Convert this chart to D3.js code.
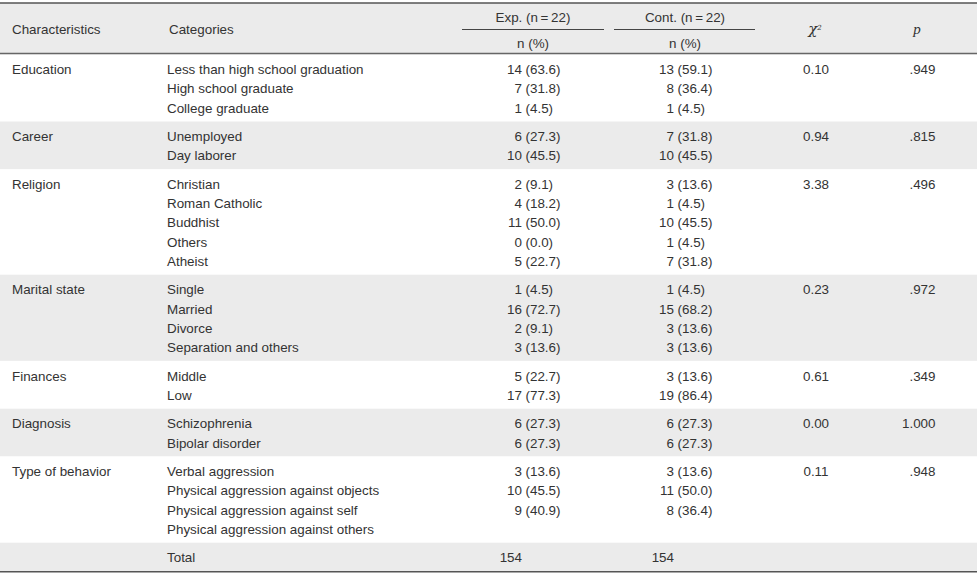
<!DOCTYPE html>
<html>
<head>
<meta charset="utf-8">
<script src="https://cdn.jsdelivr.net/npm/d3@7/dist/d3.min.js"></script>
<style>
  html, body { margin: 0; padding: 0; background: #fff; }
  svg { display: block; }
  text { font-family: "Liberation Sans", Arial, sans-serif; font-size: 13.4px; fill: #333; }
</style>
</head>
<body>
<svg id="chart" width="977" height="576"></svg>
<script>
// ---------- data ----------
const characteristics = ["Education", "Career", "Religion", "Marital state", "Finances", "Diagnosis", "Type of behavior"];
const categories = [
  ["Less than high school graduation", "High school graduate", "College graduate"],
  ["Unemployed", "Day laborer"],
  ["Christian", "Roman Catholic", "Buddhist", "Others", "Atheist"],
  ["Single", "Married", "Divorce", "Separation and others"],
  ["Middle", "Low"],
  ["Schizophrenia", "Bipolar disorder"],
  ["Verbal aggression", "Physical aggression against objects", "Physical aggression against self", "Physical aggression against others"]
];
const expN = [[14, 7, 1], [6, 10], [2, 4, 11, 0, 5], [1, 16, 2, 3], [5, 17], [6, 6], [3, 10, 9, null]];
const expPct = [["63.6", "31.8", "4.5"], ["27.3", "45.5"], ["9.1", "18.2", "50.0", "0.0", "22.7"], ["4.5", "72.7", "9.1", "13.6"], ["22.7", "77.3"], ["27.3", "27.3"], ["13.6", "45.5", "40.9", null]];
const contN = [[13, 8, 1], [7, 10], [3, 1, 10, 1, 7], [1, 15, 3, 3], [3, 19], [6, 6], [3, 11, 8, null]];
const contPct = [["59.1", "36.4", "4.5"], ["31.8", "45.5"], ["13.6", "4.5", "45.5", "4.5", "31.8"], ["4.5", "68.2", "13.6", "13.6"], ["13.6", "86.4"], ["27.3", "27.3"], ["13.6", "50.0", "36.4", null]];
const chiSq = ["0.10", "0.94", "3.38", "0.23", "0.61", "0.00", "0.11"];
const pValues = [".949", ".815", ".496", ".972", ".349", "1.000", ".948"];
const totalLabel = "Total";
const totalExp = 154;
const totalCont = 154;

// ---------- layout ----------
const W = 977;
const svg = d3.select("#chart");
const grey = "#ebebeb";
const pad = 14.3, lineH = 19.2;
const DY = "0.4em";

// x positions for columns via an ordinal scale
const colX = d3.scaleOrdinal()
  .domain(["char", "cat", "expN", "expPct", "contN", "contPct", "chi", "p", "expHead", "contHead"])
  .range([12, 167, 522, 525.5, 674, 677.5, 816, 935.5, 533, 685]);

// build row groups (cumulative units)
const groups = characteristics.map((c, i) => ({
  name: c, idx: i, lines: categories[i].length
}));
groups.push({ name: "", idx: -1, lines: 1, total: true });

let acc = 0;
groups.forEach(g => {
  g.start = acc;
  g.height = 2 * pad + (g.lines - 1) * lineH;
  acc += g.height;
  g.end = acc;
});
const bodyTop = 54.5;
const y = d3.scaleLinear().domain([0, acc]).range([bodyTop, bodyTop + acc]);

// header background
svg.append("rect").attr("x", 0).attr("y", 3).attr("width", W).attr("height", bodyTop - 3).attr("fill", grey);

// row backgrounds (alternating)
svg.selectAll("rect.band").data(groups).join("rect")
  .attr("class", "band")
  .attr("x", 0).attr("width", W)
  .attr("y", g => y(g.start)).attr("height", g => y(g.end) - y(g.start))
  .attr("fill", (g, i) => (i % 2 === 1) ? grey : "#fff");

// rules
svg.append("line").attr("x1", 0).attr("x2", W).attr("y1", 3).attr("y2", 3).attr("stroke", "#555").attr("stroke-width", 1.5);
svg.append("line").attr("x1", 0).attr("x2", W).attr("y1", 53.5).attr("y2", 53.5).attr("stroke", "#666").attr("stroke-width", 1.3);
svg.append("line").attr("x1", 0).attr("x2", W).attr("y1", y(acc) + 0.5).attr("y2", y(acc) + 0.5).attr("stroke", "#555").attr("stroke-width", 1.5);

// header text
const hdr = svg.append("g");
hdr.append("text").attr("x", colX("char")).attr("y", 29).attr("dy", DY).text("Characteristics");
hdr.append("text").attr("x", colX("cat") + 2).attr("y", 29).attr("dy", DY).text("Categories");
[["expHead", "Exp. (n\u2009=\u200922)", 462, 604], ["contHead", "Cont. (n\u2009=\u200922)", 614, 755]].forEach(([k, label, x1, x2]) => {
  hdr.append("text").attr("x", colX(k)).attr("y", 16.5).attr("dy", DY).attr("text-anchor", "middle").text(label);
  hdr.append("line").attr("x1", x1).attr("x2", x2).attr("y1", 29.5).attr("y2", 29.5).attr("stroke", "#444").attr("stroke-width", 1);
  hdr.append("text").attr("x", colX(k)).attr("y", 43).attr("dy", DY).attr("text-anchor", "middle").text("n (%)");
});
const chiT = hdr.append("text").attr("x", 815).attr("y", 29).attr("dy", "0.35em").attr("text-anchor", "middle")
  .style("font-family", "'DejaVu Serif', 'Liberation Serif', serif").style("font-style", "italic").style("font-size", "15px");
chiT.append("tspan").text("\u03c7");
chiT.append("tspan").attr("dy", "-0.55em").style("font-size", "7px").text("2");
hdr.append("text").attr("x", 917).attr("y", 29).attr("dy", "0.35em").attr("text-anchor", "middle")
  .style("font-family", "'Liberation Serif', serif").style("font-style", "italic").style("font-size", "15px").text("p");

// body text
const body = svg.append("g");
groups.forEach(g => {
  const lineY = k => y(g.start + pad + k * lineH);
  if (g.total) {
    body.append("text").attr("x", colX("cat")).attr("y", lineY(0)).attr("dy", DY).text(totalLabel);
    body.append("text").attr("x", colX("expN")).attr("y", lineY(0)).attr("dy", DY).attr("text-anchor", "end").text(totalExp);
    body.append("text").attr("x", colX("contN")).attr("y", lineY(0)).attr("dy", DY).attr("text-anchor", "end").text(totalCont);
    return;
  }
  const i = g.idx;
  body.append("text").attr("x", colX("char")).attr("y", lineY(0)).attr("dy", DY).text(g.name);
  body.append("text").attr("x", colX("chi")).attr("y", lineY(0)).attr("dy", DY).attr("text-anchor", "middle").text(chiSq[i]);
  body.append("text").attr("x", colX("p")).attr("y", lineY(0)).attr("dy", DY).attr("text-anchor", "end").text(pValues[i]);
  categories[i].forEach((cat, k) => {
    const yy = lineY(k);
    body.append("text").attr("x", colX("cat")).attr("y", yy).attr("dy", DY).text(cat);
    if (expN[i][k] !== null) {
      body.append("text").attr("x", colX("expN")).attr("y", yy).attr("dy", DY).attr("text-anchor", "end").text(expN[i][k]);
      body.append("text").attr("x", colX("expPct")).attr("y", yy).attr("dy", DY).text("(" + expPct[i][k] + ")");
    }
    if (contN[i][k] !== null) {
      body.append("text").attr("x", colX("contN")).attr("y", yy).attr("dy", DY).attr("text-anchor", "end").text(contN[i][k]);
      body.append("text").attr("x", colX("contPct")).attr("y", yy).attr("dy", DY).text("(" + contPct[i][k] + ")");
    }
  });
});
</script>
</body>
</html>
